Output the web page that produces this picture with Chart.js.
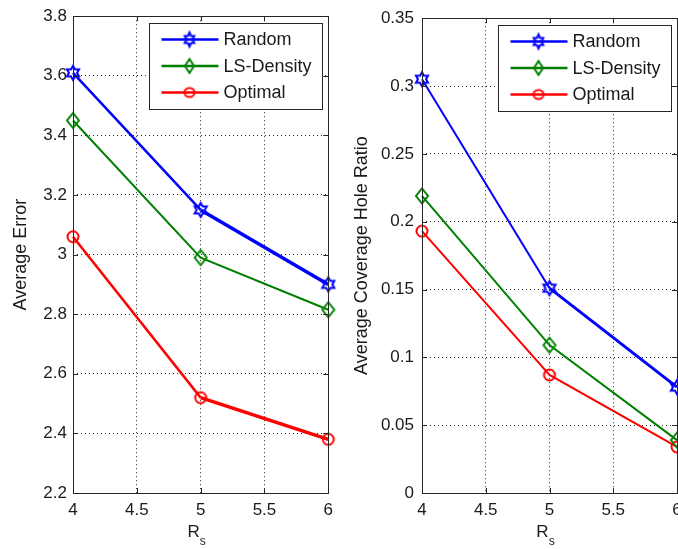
<!DOCTYPE html>
<html>
<head>
<meta charset="utf-8">
<script src="https://cdn.jsdelivr.net/npm/chart.js@4.4.0/dist/chart.umd.min.js"></script>
<style>
html, body { margin: 0; padding: 0; background: #fff; overflow: hidden; }
#wrap { position: relative; width: 678px; height: 549px; overflow: hidden; background: #fff; }
#errorChart { position: absolute; left: 0; top: 0; }
#holeChart { position: absolute; left: 340px; top: 0; }
</style>
</head>
<body>
<div id="wrap">
    <canvas id="errorChart" width="340" height="549"></canvas>
    <canvas id="holeChart" width="360" height="549"></canvas>
</div>
<script>
// values
const rsValues = [4, 5, 6];
const seriesNames = ['Random', 'LS-Density', 'Optimal'];

const errorRandom = [3.61, 3.15, 2.90];
const errorDensity = [3.45, 2.99, 2.815];
const errorOptimal = [3.06, 2.52, 2.38];

const holeRandom = [0.305, 0.151, 0.078];
const holeDensity = [0.219, 0.109, 0.039];
const holeOptimal = [0.193, 0.087, 0.034];

const rsTicks = [4, 4.5, 5, 5.5, 6];
const errorTicks = [2.2, 2.4, 2.6, 2.8, 3, 3.2, 3.4, 3.6, 3.8];
const holeTicks = [0, 0.05, 0.1, 0.15, 0.2, 0.25, 0.3, 0.35];

const FONT = "'Liberation Sans', Arial, sans-serif";
const TEXT = '#1a1a1a';
const colors = ['#0000ff', '#008000', '#ff0000'];

// matlab-ish markers drawn once on small canvases
function makeMarker(shape, color, sx, sy) {
    const c = document.createElement('canvas');
    c.width = 20;
    c.height = 20;
    const g = c.getContext('2d');
    g.strokeStyle = color;
    g.lineWidth = 2;
    g.beginPath();
    if (shape === 'hexagram') {
        const r = 1 / Math.sqrt(3);
        for (let i = 0; i < 12; i++) {
            const a = -Math.PI / 2 + i * Math.PI / 6;
            const rad = i % 2 === 0 ? 1 : r;
            const px = 10 + sx * rad * Math.cos(a), py = 10 + sy * rad * Math.sin(a);
            if (i === 0) g.moveTo(px, py); else g.lineTo(px, py);
        }
        g.closePath();
    } else if (shape === 'diamond') {
        g.moveTo(10, 10 - sy);
        g.lineTo(10 + sx, 10);
        g.lineTo(10, 10 + sy);
        g.lineTo(10 - sx, 10);
        g.closePath();
    } else {
        g.ellipse(10, 10, sx, sy, 0, 0, Math.PI * 2);
    }
    g.stroke();
    return c;
}

const markers = [
    makeMarker('hexagram', colors[0], 7, 7),
    makeMarker('diamond', colors[1], 6, 7.5),
    makeMarker('circle', colors[2], 5.5, 5.5)
];
const legendMarkers = [
    makeMarker('hexagram', colors[0], 5.5, 7),
    makeMarker('diamond', colors[1], 4.5, 7),
    makeMarker('circle', colors[2], 5, 4.5)
];

function toPoints(values) {
    return rsValues.map((x, i) => ({ x: x, y: values[i] }));
}

function makeDataset(i, values, widths) {
    return {
        label: seriesNames[i],
        data: toPoints(values),
        borderColor: colors[i],
        backgroundColor: 'transparent',
        borderWidth: widths[0],
        segment: {
            borderWidth: ctx => widths[ctx.p0DataIndex]
        },
        pointStyle: markers[i],
        pointRadius: 7,
        pointHoverRadius: 7,
        tension: 0,
        clip: false
    };
}

// box, inward ticks, legend and x title
const matlabLook = {
    id: 'matlabLook',
    afterDatasetsDraw(chart) {
        const ctx = chart.ctx;
        const a = chart.chartArea;
        const xs = chart.scales.x, ys = chart.scales.y;
        ctx.save();
        ctx.strokeStyle = '#262626';
        ctx.lineWidth = 1;
        ctx.strokeRect(Math.round(a.left) + 0.5, Math.round(a.top) + 0.5,
            Math.round(a.right - a.left), Math.round(a.bottom - a.top));
        ctx.beginPath();
        for (const t of xs.ticks) {
            const px = Math.round(xs.getPixelForValue(t.value)) + 0.5;
            ctx.moveTo(px, a.bottom); ctx.lineTo(px, a.bottom - 5);
            ctx.moveTo(px, a.top); ctx.lineTo(px, a.top + 5);
        }
        for (const t of ys.ticks) {
            const py = Math.round(ys.getPixelForValue(t.value)) + 0.5;
            ctx.moveTo(a.left, py); ctx.lineTo(a.left + 5, py);
            ctx.moveTo(a.right, py); ctx.lineTo(a.right - 5, py);
        }
        ctx.stroke();
        ctx.restore();
    },
    afterDraw(chart) {
        const ctx = chart.ctx;
        const a = chart.chartArea;
        const w = 173, h = 86;
        const x0 = Math.round(a.right - 6 - w) + 0.5;
        const y0 = Math.round(a.top + 7) + 0.5;
        ctx.save();
        ctx.fillStyle = '#fff';
        ctx.fillRect(x0, y0, w, h);
        ctx.strokeStyle = '#262626';
        ctx.lineWidth = 1;
        ctx.strokeRect(x0, y0, w, h);
        ctx.font = '18px ' + FONT;
        ctx.textBaseline = 'middle';
        chart.data.datasets.forEach((ds, i) => {
            const ry = y0 + 16 + i * 26.5;
            ctx.strokeStyle = ds.borderColor;
            ctx.lineWidth = 2.5;
            ctx.beginPath();
            ctx.moveTo(x0 + 12, ry);
            ctx.lineTo(x0 + 69, ry);
            ctx.stroke();
            ctx.drawImage(legendMarkers[i], x0 + 40 - 10, ry - 10);
            ctx.fillStyle = TEXT;
            ctx.fillText(ds.label, x0 + 74, ry + 1);
        });

        // x title R with subscript s
        const cx = (a.left + a.right) / 2 - 5;
        ctx.fillStyle = TEXT;
        ctx.textBaseline = 'alphabetic';
        ctx.font = '17px ' + FONT;
        const rw = ctx.measureText('R').width;
        ctx.fillText('R', cx - rw / 2 - 2, 537);
        ctx.font = '12px ' + FONT;
        ctx.fillText('s', cx + rw / 2 - 2, 545);
        ctx.restore();
    }
};

function makeOptions(yTicks, yMin, yMax, yTitle, yWidth, yTitlePad, rightPad, yLabelPad) {
    return {
        responsive: false,
        animation: false,
        events: [],
        layout: { padding: { left: 0, top: 14, right: rightPad, bottom: 0 } },
        plugins: {
            legend: { display: false },
            tooltip: { enabled: false }
        },
        scales: {
            x: {
                type: 'linear',
                min: 4,
                max: 6,
                afterBuildTicks: s => { s.ticks = rsTicks.map(v => ({ value: v })); },
                afterFit: s => { s.height = 56; },
                ticks: {
                    callback: v => String(v),
                    color: TEXT,
                    font: { family: FONT, size: 17 },
                    padding: 7,
                    maxRotation: 0
                },
                grid: { color: '#262626', lineWidth: 1, drawTicks: false, borderDash: [1, 3] },
                border: { display: false, dash: [1, 3] },
                title: { display: false }
            },
            y: {
                type: 'linear',
                min: yMin,
                max: yMax,
                afterBuildTicks: s => { s.ticks = yTicks.map(v => ({ value: v })); },
                afterFit: s => { s.width = yWidth; },
                ticks: {
                    callback: v => String(v),
                    color: TEXT,
                    font: { family: FONT, size: 17 },
                    padding: yLabelPad
                },
                grid: { color: '#262626', lineWidth: 1, drawTicks: false, borderDash: [1, 3] },
                border: { display: false, dash: [1, 3] },
                title: {
                    display: true,
                    text: yTitle,
                    color: TEXT,
                    font: { family: FONT, size: 18 },
                    padding: { top: yTitlePad, bottom: 0 }
                }
            }
        }
    };
}

new Chart(document.getElementById('errorChart').getContext('2d'), {
    type: 'line',
    data: {
        datasets: [
            makeDataset(0, errorRandom, [2.5, 3.5]),
            makeDataset(1, errorDensity, [2, 2]),
            makeDataset(2, errorOptimal, [2.5, 3.5])
        ]
    },
    options: makeOptions(errorTicks, 2.2, 3.8, 'Average Error', 73, 10, 11, 6),
    plugins: [matlabLook]
});

new Chart(document.getElementById('holeChart').getContext('2d'), {
    type: 'line',
    data: {
        datasets: [
            makeDataset(0, holeRandom, [2, 3]),
            makeDataset(1, holeDensity, [2, 2]),
            makeDataset(2, holeOptimal, [2, 2])
        ]
    },
    options: makeOptions(holeTicks, 0, 0.35, 'Average Coverage Hole Ratio', 82, 11, 23, 8),
    plugins: [matlabLook]
});
</script>
</body>
</html>
